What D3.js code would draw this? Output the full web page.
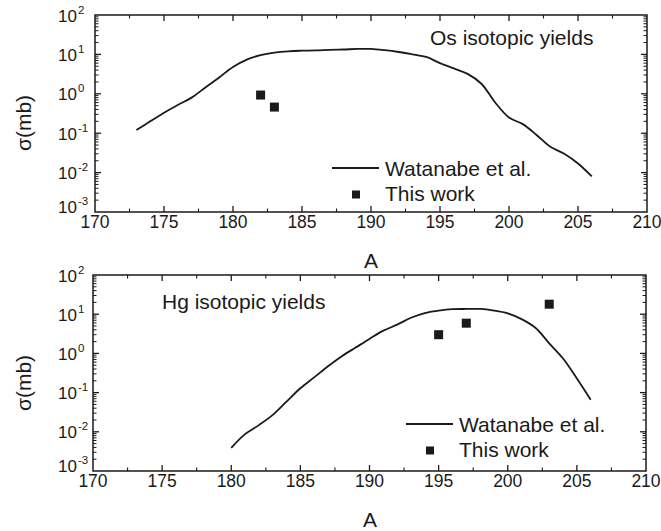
<!DOCTYPE html>
<html>
<head>
<meta charset="utf-8">
<script src="https://cdn.jsdelivr.net/npm/d3@7"></script>
<style>
  body { margin: 0; background: #fff; }
  svg text { font-family: "Liberation Sans", Arial, sans-serif; fill: #1a1a1a; }
</style>
</head>
<body>
<svg id="chart" width="661" height="531"></svg>
<script>
// Os panel (top)
var osCalcA = [173,174,175,176,177,178,179,180,181,182,183,184,185,186,187,188,189,190,191,192,193,194,195,196,197,198,199,200,201,202,203,204,205,206];
var osCalcSigma = [0.12,0.2,0.33,0.52,0.8,1.45,2.6,4.8,7.4,9.6,11.1,12,12.4,12.6,13,13.3,13.8,13.8,12.8,11.5,10,8.6,6,4.4,3.2,1.8,0.6,0.25,0.17,0.09,0.045,0.03,0.017,0.008];
var osExpA = [182, 183];
var osExpSigma = [0.93, 0.46];

// Hg panel (bottom)
var hgCalcA = [180,181,182,183,184,185,186,187,188,189,190,191,192,193,194,195,196,197,198,199,200,201,202,203,204,205,206];
var hgCalcSigma = [0.0039,0.0087,0.0148,0.027,0.059,0.129,0.245,0.47,0.85,1.41,2.34,3.8,5.4,8.1,10.7,12.3,13.4,13.6,13.6,12.4,10.5,7.5,4.5,1.8,0.74,0.23,0.066];
var hgExpA = [195, 197, 203];
var hgExpSigma = [3.0, 5.9, 18];

var xTicks = [170,175,180,185,190,195,200,205,210];
var yExponents = [-3,-2,-1,0,1,2];
var legendNames = ["Watanabe et al.", "This work"];

var svg = d3.select("#chart");
var ink = "#1a1a1a";

function drawPanel(p) {
    var x = d3.scaleLinear().domain([170, 210]).range([p.left, p.right]);
    var y = d3.scaleLog().domain([1e-3, 1e2]).range([p.bottom, p.top]);
    var g = svg.append("g");

    // x ticks (major + minor), bottom and top, inside
    var xMinor = d3.range(172.5, 210, 5);
    [p.bottom, p.top].forEach(function(yy, k) {
        var dir = k == 0 ? -1 : 1;
        g.selectAll(null).data(xTicks.slice(1, -1)).enter().append("line")
            .attr("x1", d => x(d)).attr("x2", d => x(d))
            .attr("y1", yy).attr("y2", yy + dir * 6)
            .style("stroke", ink).style("stroke-width", 1.3);
        g.selectAll(null).data(xMinor).enter().append("line")
            .attr("x1", d => x(d)).attr("x2", d => x(d))
            .attr("y1", yy).attr("y2", yy + dir * 3.5)
            .style("stroke", ink).style("stroke-width", 1.1);
    });

    // y ticks (log, major + minor), left and right, inside
    var yMinor = [];
    yExponents.slice(0, -1).forEach(function(e) {
        for (var m = 2; m <= 9; m++) yMinor.push(m * Math.pow(10, e));
    });
    var yMajor = yExponents.slice(1, -1).map(e => Math.pow(10, e));
    [p.left, p.right].forEach(function(xx, k) {
        var dir = k == 0 ? 1 : -1;
        g.selectAll(null).data(yMajor).enter().append("line")
            .attr("x1", xx).attr("x2", xx + dir * 6)
            .attr("y1", d => y(d)).attr("y2", d => y(d))
            .style("stroke", ink).style("stroke-width", 1.3);
        g.selectAll(null).data(yMinor).enter().append("line")
            .attr("x1", xx).attr("x2", xx + dir * 3.5)
            .attr("y1", d => y(d)).attr("y2", d => y(d))
            .style("stroke", ink).style("stroke-width", 1);
    });

    // frame
    g.append("rect")
        .attr("x", p.left).attr("y", p.top)
        .attr("width", p.right - p.left).attr("height", p.bottom - p.top)
        .style("fill", "none").style("stroke", ink).style("stroke-width", 1.5);

    // x tick labels
    g.selectAll(null).data(xTicks).enter().append("text")
        .attr("x", d => x(d)).attr("y", p.bottom + 15.5)
        .attr("text-anchor", "middle")
        .style("font-size", "17.5px")
        .text(d => d);

    // y tick labels 10^n
    yExponents.forEach(function(e, i) {
        var yy = y(Math.pow(10, e)) + (i == 0 ? 1 : 6.5);
        g.append("text")
            .attr("x", 77).attr("y", yy)
            .attr("text-anchor", "end")
            .style("font-size", "17px")
            .text("10");
        g.append("text")
            .attr("x", 78).attr("y", yy - 8)
            .style("font-size", "11.5px")
            .text(e);
    });

    // axis titles
    g.append("text")
        .attr("transform", "translate(31," + p.ylabY + ") rotate(-90)")
        .attr("text-anchor", "middle")
        .style("font-size", "21px")
        .text("σ(mb)");
    g.append("text")
        .attr("x", p.xlabX).attr("y", p.xlabY)
        .attr("text-anchor", "middle")
        .style("font-size", "21px")
        .text("A");

    // panel title
    g.append("text")
        .attr("x", p.titleX).attr("y", p.titleY)
        .style("font-size", "21px")
        .text(p.title);

    // calculated curve
    var line = d3.line()
        .x(d => x(d[0]))
        .y(d => y(d[1]))
        .curve(d3.curveCatmullRom.alpha(0.5));
    g.append("path")
        .datum(d3.zip(p.calcA, p.calcSigma))
        .attr("d", line)
        .style("fill", "none").style("stroke", ink).style("stroke-width", 1.8);

    // measured points
    var s = 9;
    g.selectAll(null).data(d3.zip(p.expA, p.expSigma)).enter().append("rect")
        .attr("x", d => x(d[0]) - s / 2).attr("y", d => y(d[1]) - s / 2)
        .attr("width", s).attr("height", s)
        .style("fill", ink);

    // legend
    var L = p.legend;
    g.append("line")
        .attr("x1", L.x).attr("x2", L.x + 47)
        .attr("y1", L.y).attr("y2", L.y)
        .style("stroke", ink).style("stroke-width", 1.8);
    g.append("text")
        .attr("x", L.x + 53).attr("y", L.y + 7.5)
        .style("font-size", "21px")
        .text(legendNames[0]);
    g.append("rect")
        .attr("x", L.x + 24 - 4).attr("y", L.y + 26.5 - 4)
        .attr("width", 8).attr("height", 8)
        .style("fill", ink);
    g.append("text")
        .attr("x", L.x + 53).attr("y", L.y + 32.5)
        .style("font-size", "21px")
        .text(legendNames[1]);
}

drawPanel({
    left: 95, right: 647, top: 15, bottom: 212,
    calcA: osCalcA, calcSigma: osCalcSigma, expA: osExpA, expSigma: osExpSigma,
    title: "Os isotopic yields", titleX: 430, titleY: 45,
    ylabY: 123, xlabX: 371, xlabY: 268,
    legend: { x: 332, y: 168 }
});

drawPanel({
    left: 93, right: 646, top: 275, bottom: 471,
    calcA: hgCalcA, calcSigma: hgCalcSigma, expA: hgExpA, expSigma: hgExpSigma,
    title: "Hg isotopic yields", titleX: 162, titleY: 309,
    ylabY: 383, xlabX: 370, xlabY: 527,
    legend: { x: 406, y: 424 }
});
</script>
</body>
</html>
